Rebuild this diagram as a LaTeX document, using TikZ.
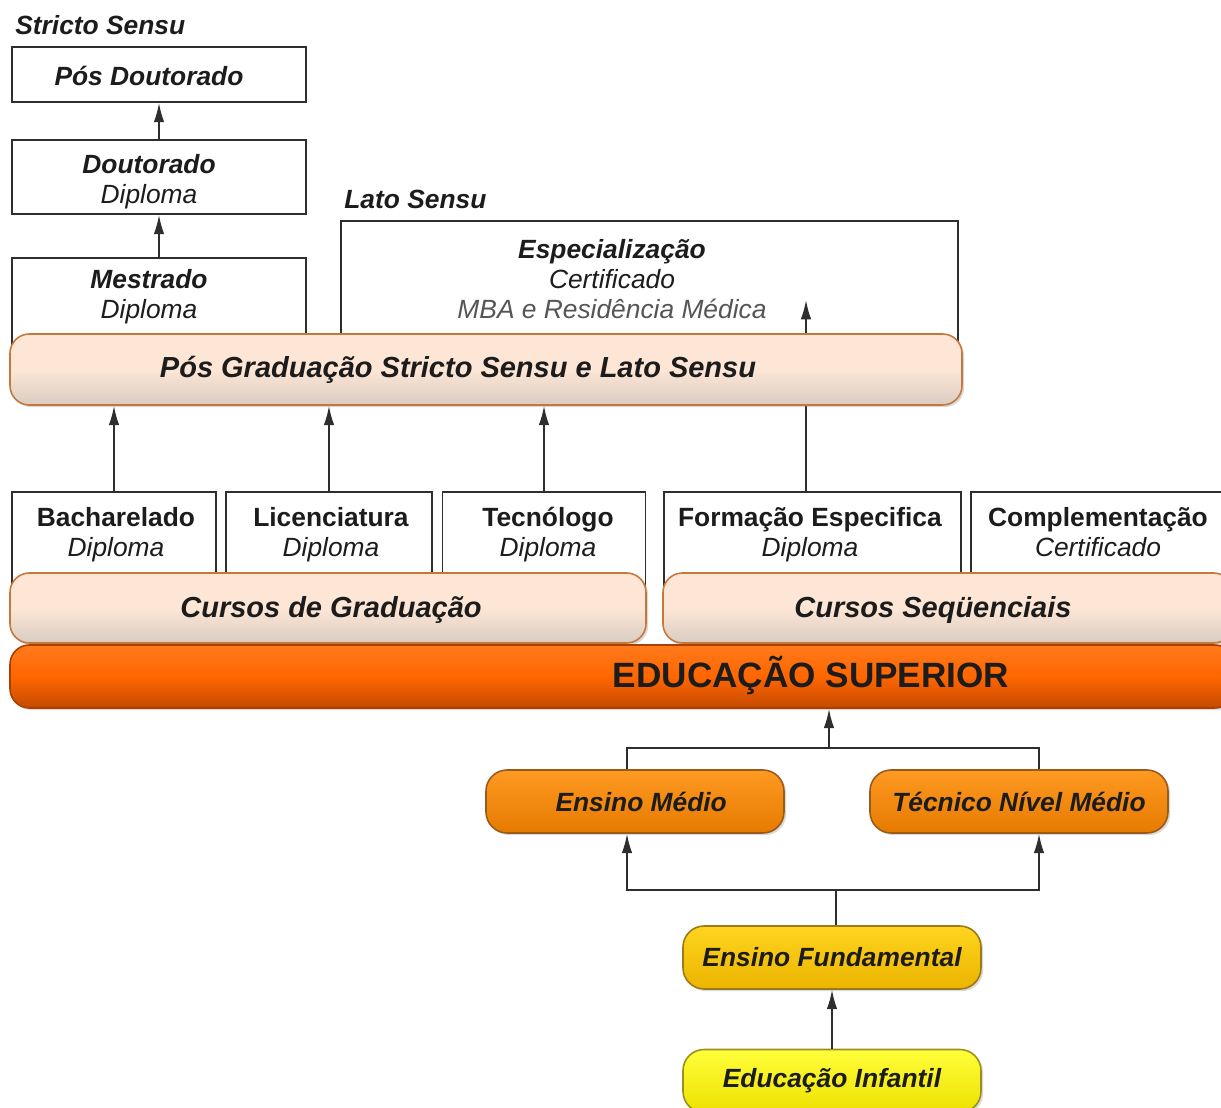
\documentclass[tikz,border=0pt]{standalone}
\usepackage{fontspec}
\setmainfont{Liberation Sans}
\usetikzlibrary{positioning,shadows,arrows.meta}
\definecolor{EduLinha}{HTML}{2E2E2E}
\definecolor{EduTexto}{HTML}{1C1C1C}
\definecolor{EduCinza}{HTML}{555555}
\definecolor{EduPessegoTopo}{HTML}{FDE6D5}
\definecolor{EduPessegoBase}{HTML}{D9CCC2}
\definecolor{EduPessegoBorda}{HTML}{C8773A}
\definecolor{EduSupTopo}{HTML}{FF7A1C}
\definecolor{EduSupMeio}{HTML}{FF6600}
\definecolor{EduSupBase}{HTML}{C44A00}
\definecolor{EduSupBorda}{HTML}{A84000}
\definecolor{EduMedioTopo}{HTML}{FF9A22}
\definecolor{EduMedioBase}{HTML}{E67A00}
\definecolor{EduMedioBorda}{HTML}{9A5A1A}
\definecolor{EduFundTopo}{HTML}{FFD51F}
\definecolor{EduFundBase}{HTML}{EBB400}
\definecolor{EduFundBorda}{HTML}{9A7A1A}
\definecolor{EduInfTopo}{HTML}{FFFF3A}
\definecolor{EduInfBase}{HTML}{EDE000}
\definecolor{EduInfBorda}{HTML}{9A901A}
\newcommand{\pxu}{0.02cm}

\begin{document}
\begin{tikzpicture}[x=0.02cm,y=-0.02cm,>={Latex[length=11pt,width=6pt]},
    every node/.style={font=\fontsize{15}{17}\selectfont,text=EduTexto},
    caixa/.style={draw=EduLinha,line width=1pt,fill=white,inner sep=0pt},
    texto/.style={align=center,inner sep=0pt,text depth=0.25em},
    rotulo/.style={anchor=west,inner sep=0pt,font=\fontsize{15}{17}\selectfont\bfseries\itshape},
    seta/.style={draw=EduLinha,line width=1pt,->},
    linha/.style={draw=EduLinha,line width=1pt},
    faixa/.style={draw=EduPessegoBorda,line width=0.9pt,rounded corners=11pt,inner sep=0pt,
      top color=EduPessegoTopo,bottom color=EduPessegoBase,middle color=EduPessegoTopo,
      drop shadow={opacity=0.3,shadow xshift=1.2pt,shadow yshift=-1.2pt}},
    faixatxt/.style={inner sep=0pt,font=\fontsize{16.5}{18}\selectfont\bfseries\itshape},
    pilula/.style={line width=0.9pt,rounded corners=12pt,inner sep=0pt,
      minimum width=298*\pxu,minimum height=63*\pxu,
      font=\fontsize{15}{17}\selectfont\bfseries\itshape,
      drop shadow={opacity=0.3,shadow xshift=1.2pt,shadow yshift=-1.2pt}}]
  \useasboundingbox (0,0) rectangle (1221,1108);

  % stricto sensu
  \node[rotulo] (stricto) at (15,25) {Stricto Sensu};
  \node[caixa,minimum width=294*\pxu,minimum height=55*\pxu] (posdout) at (159,74.5) {};
  \node[texto,font=\fontsize{15}{17}\selectfont\bfseries\itshape] (posdoutTxt) at (149,78) {Pós Doutorado};
  \node[caixa,minimum width=294*\pxu,minimum height=74*\pxu] (doutorado) at (159,177) {};
  \node[texto] (doutoradoTxt) at (149,181) {\textbf{\textit{Doutorado}}\\\textit{Diploma}};
  \node[caixa,minimum width=294*\pxu,minimum height=90*\pxu] (mestrado) at (159,303) {};
  \node[texto] (mestradoTxt) at (149,296) {\textbf{\textit{Mestrado}}\\\textit{Diploma}};
  \draw[seta] (doutorado.north) -- (posdout.south);
  \draw[seta] (mestrado.north) -- (doutorado.south);

  % lato sensu
  \node[rotulo] (lato) at (344,199) {Lato Sensu};
  \node[caixa,minimum width=617*\pxu,minimum height=125*\pxu] (espec) at (649.5,283.5) {};
  \node[texto] (especTxt) at (612,281)
    {\textbf{\textit{Especialização}}\\\textit{Certificado}\\\textcolor{EduCinza}{\textit{MBA e Residência Médica}}};

  % cursos
  \node[caixa,minimum width=204*\pxu,minimum height=98*\pxu] (bach) at (114,541) {};
  \node[caixa,minimum width=206*\pxu,minimum height=98*\pxu] (lic) at (329,541) {};
  \node[caixa,minimum width=203*\pxu,minimum height=98*\pxu] (tec) at (544,541) {};
  \node[caixa,minimum width=297*\pxu,minimum height=98*\pxu] (form) at (812.5,541) {};
  \node[caixa,minimum width=259*\pxu,minimum height=98*\pxu] (compl) at (1100.5,541) {};
  \node[texto] (bachTxt) at (116,534) {\textbf{Bacharelado}\\\textit{Diploma}};
  \node[texto] (licTxt) at (331,534) {\textbf{Licenciatura}\\\textit{Diploma}};
  \node[texto] (tecTxt) at (548,534) {\textbf{Tecnólogo}\\\textit{Diploma}};
  \node[texto] (formTxt) at (810,534) {\textbf{Formação Especifica}\\\textit{Diploma}};
  \node[texto] (complTxt) at (1098,534) {\textbf{Complementação}\\\textit{Certificado}};
  \coordinate (pontaEsp) at (806,300);
  \draw[seta] (pontaEsp |- form.north) -- (pontaEsp);

  % faixas
  \node[faixa,minimum width=952*\pxu,minimum height=71*\pxu] (posgrad) at (486,369.5) {};
  \node[faixatxt] (posgradTxt) at (458,370) {Pós Graduação Stricto Sensu e Lato Sensu};
  \node[faixa,minimum width=636*\pxu,minimum height=70*\pxu] (grad) at (328,608) {};
  \node[faixatxt] (gradTxt) at (331,610) {Cursos de Graduação};
  \node[faixa,minimum width=570*\pxu,minimum height=70*\pxu] (seq) at (948,608) {};
  \node[faixatxt] (seqTxt) at (933,610) {Cursos Seqüenciais};
  \node[faixa,draw=EduSupBorda,top color=EduSupTopo,bottom color=EduSupBase,middle color=EduSupMeio,
    minimum width=1224*\pxu,minimum height=63*\pxu] (educsup) at (622,676.5) {};
  \node[inner sep=0pt,font=\fontsize{20}{22}\selectfont\bfseries] (educsupTxt) at (811,676) {EDUCAÇÃO SUPERIOR};
  \draw[seta] (bach.north) -- (bach.north |- posgrad.south);
  \draw[seta] (lic.north) -- (lic.north |- posgrad.south);
  \draw[seta] (tec.north) -- (tec.north |- posgrad.south);

  % educacao basica
  \node[pilula,draw=EduMedioBorda,top color=EduMedioTopo,bottom color=EduMedioBase] (medio) at (635,801.5) {\hspace*{7pt}Ensino Médio};
  \node[pilula,draw=EduMedioBorda,top color=EduMedioTopo,bottom color=EduMedioBase] (tecnico) at (1019,801.5) {Técnico Nível Médio};
  \node[pilula,draw=EduFundBorda,top color=EduFundTopo,bottom color=EduFundBase] (fund) at (832,957.5) {Ensino Fundamental};
  \node[pilula,draw=EduInfBorda,top color=EduInfTopo,bottom color=EduInfBase] (infantil) at (832,1081) {Educação Infantil};
  \coordinate (jsup) at (829,748);
  \coordinate (jfund) at (836,890);
  \draw[seta] (jsup) -- (jsup |- educsup.south);
  \draw[linha] ([xshift=-8*\pxu]medio.north) |- (jsup) -| ([xshift=20*\pxu]tecnico.north);
  \draw[linha] (jfund |- fund.north) -- (jfund);
  \draw[seta] (jfund) -| ([xshift=-8*\pxu]medio.south);
  \draw[seta] (jfund) -| ([xshift=20*\pxu]tecnico.south);
  \draw[seta] (infantil) -- (fund);
\end{tikzpicture}
\end{document}
